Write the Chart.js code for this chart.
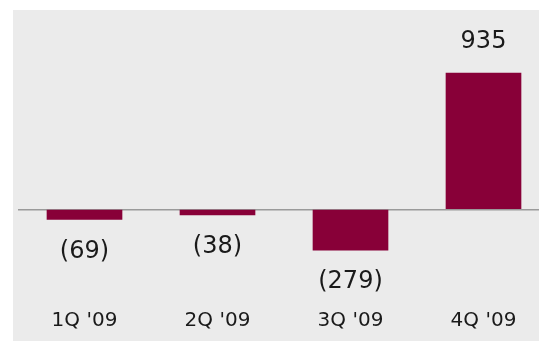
<!DOCTYPE html>
<html>
<head>
<meta charset="utf-8">
<script src="https://cdn.jsdelivr.net/npm/chart.js@4/dist/chart.umd.min.js"></script>
<style>
  html, body { margin: 0; padding: 0; background: #fff; overflow: hidden; width: 539px; height: 341px; }
  #panel { position: absolute; left: 13px; top: 10px; width: 540px; height: 340px; background: #ebebeb; }
  #wrap { position: absolute; left: 0; top: 0; width: 551px; height: 341px; }
</style>
</head>
<body>
<div id="panel"></div>
<div id="wrap"><canvas id="chart"></canvas></div>
<script>
var quarters = ['1Q \'09', '2Q \'09', '3Q \'09', '4Q \'09'];
var income = [-69, -38, -279, 935];

var fmt = function (v) {
  return v < 0 ? '(' + Math.abs(v) + ')' : String(v);
};

// value labels above / below the bar ends
var valueLabels = {
  id: 'valueLabels',
  afterDatasetsDraw: function (chart) {
    var ctx = chart.ctx;
    var meta = chart.getDatasetMeta(0);
    ctx.save();
    ctx.font = '24px "DejaVu Sans"';
    ctx.fillStyle = '#1a1a1a';
    ctx.textAlign = 'center';
    ctx.textBaseline = 'middle';
    meta.data.forEach(function (bar, i) {
      var v = income[i];
      var y = v < 0 ? bar.y + 32 : bar.y - 31;
      ctx.fillText(fmt(v), bar.x, y);
    });
    ctx.restore();
  }
};

var config = {
  type: 'bar',
  data: {
    labels: quarters,
    datasets: [{
      data: income,
      backgroundColor: '#880038',
      borderWidth: 0,
      barThickness: 75
    }]
  },
  options: {
    responsive: true,
    maintainAspectRatio: false,
    animation: false,
    layout: { padding: { left: 18, right: 1, top: 49, bottom: 8 } },
    plugins: {
      legend: { display: false },
      tooltip: { enabled: false }
    },
    scales: {
      x: {
        grid: { display: false, drawTicks: false },
        border: { display: false },
        afterFit: function (scale) { scale.height = 58; },
        ticks: {
          padding: 34,
          maxRotation: 0,
          color: '#1a1a1a',
          font: { family: 'DejaVu Sans', size: 20 }
        }
      },
      y: {
        min: -450,
        max: 1100,
        ticks: { display: false, stepSize: 50 },
        border: { display: false },
        grid: {
          drawTicks: false,
          lineWidth: 1.5,
          color: function (c) { return c.tick && c.tick.value === 0 ? '#9a9a9a' : 'transparent'; }
        }
      }
    }
  },
  plugins: [valueLabels]
};

window.onload = function () {
  var ctx = document.getElementById('chart');
  window.myChart = new Chart(ctx, config);
};
</script>
</body>
</html>
